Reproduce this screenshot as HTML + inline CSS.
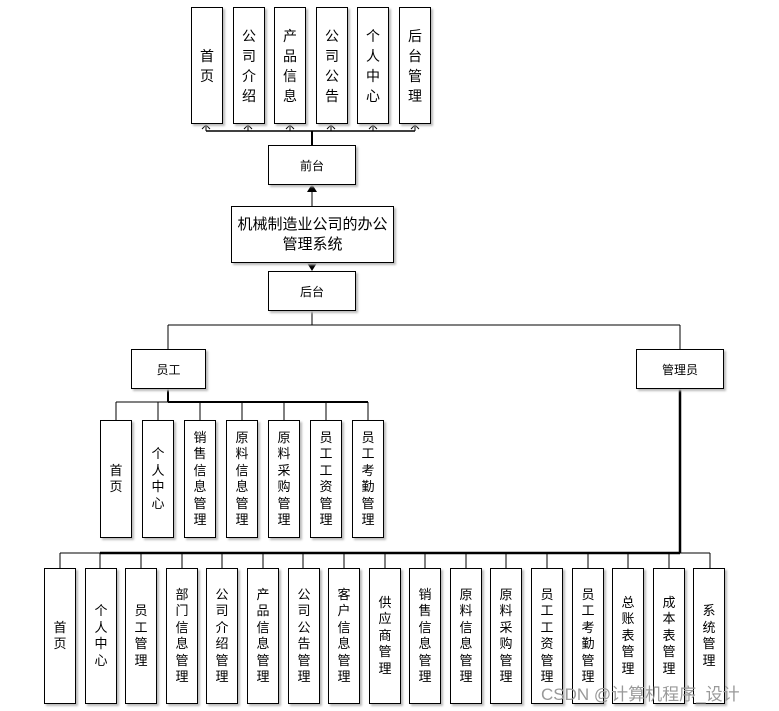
<!DOCTYPE html>
<html><head><meta charset="utf-8"><style>
body{margin:0;width:779px;height:711px;background:#fff;position:relative;overflow:hidden;font-family:"Liberation Sans","Noto Sans CJK SC",sans-serif;color:#000}
.b{position:absolute;border:1.5px solid #000;box-sizing:border-box;display:flex;align-items:center;justify-content:center;text-align:center;background:#fff;box-shadow:2px 2px 2px #bbb}
.v{font-size:13px;line-height:16.5px;width:14px;word-break:break-all}
.t{font-size:14px;line-height:20px;width:15px;word-break:break-all}
.h{font-size:12px}
svg{position:absolute;left:0;top:0}
</style></head><body>
<svg width="779" height="711">
<g stroke="#000" fill="none">
<line x1="206" y1="131" x2="415" y2="131" stroke-width="1.5"/>
<line x1="206" y1="125" x2="206" y2="131"/><line x1="248" y1="125" x2="248" y2="131"/><line x1="290" y1="125" x2="290" y2="131"/><line x1="331" y1="125" x2="331" y2="131"/><line x1="373" y1="125" x2="373" y2="131"/><line x1="415" y1="125" x2="415" y2="131"/>
<path d="M202 129 L206 125 L210 129 M244 129 L248 125 L252 129 M286 129 L290 125 L294 129 M327 129 L331 125 L335 129 M369 129 L373 125 L377 129 M411 129 L415 125 L419 129"/>
<line x1="312" y1="131" x2="312" y2="145" stroke-width="2"/>
<line x1="312" y1="192" x2="312" y2="206"/>
<line x1="312" y1="310" x2="312" y2="325"/>
<line x1="168" y1="325" x2="680" y2="325"/>
<line x1="168" y1="325" x2="168" y2="349"/><line x1="680" y1="325" x2="680" y2="349"/>
<line x1="168" y1="388" x2="168" y2="402" stroke-width="2"/>
<line x1="116" y1="402" x2="368" y2="402"/>
<line x1="168" y1="402" x2="368" y2="402" stroke-width="2"/>
<line x1="116" y1="402" x2="116" y2="420"/><line x1="158" y1="402" x2="158" y2="420"/><line x1="200" y1="402" x2="200" y2="420"/><line x1="242" y1="402" x2="242" y2="420"/><line x1="284" y1="402" x2="284" y2="420"/><line x1="326" y1="402" x2="326" y2="420"/><line x1="368" y1="402" x2="368" y2="420"/>
<line x1="680" y1="388" x2="680" y2="553" stroke-width="2.5"/>
<line x1="60" y1="553" x2="710" y2="553"/>
<line x1="100" y1="553" x2="680" y2="553" stroke-width="2.5"/>
<g id="bl"></g>
</g>
<path d="M307 192 L312 184 L317 192 Z" fill="#000"/>
<path d="M307 263 L317 263 L312 271 Z" fill="#000"/>
<g stroke="#000">
<line x1="60" y1="553" x2="60" y2="568"/><line x1="100" y1="553" x2="100" y2="568"/><line x1="141" y1="553" x2="141" y2="568"/><line x1="182" y1="553" x2="182" y2="568"/><line x1="222" y1="553" x2="222" y2="568"/><line x1="263" y1="553" x2="263" y2="568"/><line x1="303" y1="553" x2="303" y2="568"/><line x1="344" y1="553" x2="344" y2="568"/><line x1="385" y1="553" x2="385" y2="568"/><line x1="425" y1="553" x2="425" y2="568"/><line x1="466" y1="553" x2="466" y2="568"/><line x1="506" y1="553" x2="506" y2="568"/><line x1="547" y1="553" x2="547" y2="568"/><line x1="588" y1="553" x2="588" y2="568"/><line x1="628" y1="553" x2="628" y2="568"/><line x1="669" y1="553" x2="669" y2="568"/><line x1="710" y1="553" x2="710" y2="568"/>
</g>
</svg>

<div class="b" style="left:191px;top:7px;width:32px;height:117px"><div class="t">首页</div></div>
<div class="b" style="left:233px;top:7px;width:32px;height:117px"><div class="t">公司介绍</div></div>
<div class="b" style="left:274px;top:7px;width:32px;height:117px"><div class="t">产品信息</div></div>
<div class="b" style="left:316px;top:7px;width:32px;height:117px"><div class="t">公司公告</div></div>
<div class="b" style="left:357px;top:7px;width:32px;height:117px"><div class="t">个人中心</div></div>
<div class="b" style="left:399px;top:7px;width:32px;height:117px"><div class="t">后台管理</div></div>

<div class="b h" style="left:268px;top:145px;width:88px;height:40px">前台</div>
<div class="b" style="left:231px;top:206px;width:163px;height:57px;font-size:15px;line-height:20px;padding:0 4px">机械制造业公司的办公管理系统</div>
<div class="b h" style="left:268px;top:271px;width:88px;height:40px">后台</div>
<div class="b h" style="left:131px;top:349px;width:75px;height:40px">员工</div>
<div class="b h" style="left:636px;top:349px;width:88px;height:40px">管理员</div>

<div class="b" style="left:100px;top:420px;width:32px;height:118px"><div class="v">首页</div></div>
<div class="b" style="left:142px;top:420px;width:32px;height:118px"><div class="v">个人中心</div></div>
<div class="b" style="left:184px;top:420px;width:32px;height:118px"><div class="v">销售信息管理</div></div>
<div class="b" style="left:226px;top:420px;width:32px;height:118px"><div class="v">原料信息管理</div></div>
<div class="b" style="left:268px;top:420px;width:32px;height:118px"><div class="v">原料采购管理</div></div>
<div class="b" style="left:310px;top:420px;width:32px;height:118px"><div class="v">员工工资管理</div></div>
<div class="b" style="left:352px;top:420px;width:32px;height:118px"><div class="v">员工考勤管理</div></div>

<div class="b" style="left:44px;top:568px;width:32px;height:136px"><div class="v">首页</div></div>
<div class="b" style="left:85px;top:568px;width:32px;height:136px"><div class="v">个人中心</div></div>
<div class="b" style="left:125px;top:568px;width:32px;height:136px"><div class="v">员工管理</div></div>
<div class="b" style="left:166px;top:568px;width:32px;height:136px"><div class="v">部门信息管理</div></div>
<div class="b" style="left:206px;top:568px;width:32px;height:136px"><div class="v">公司介绍管理</div></div>
<div class="b" style="left:247px;top:568px;width:32px;height:136px"><div class="v">产品信息管理</div></div>
<div class="b" style="left:288px;top:568px;width:32px;height:136px"><div class="v">公司公告管理</div></div>
<div class="b" style="left:328px;top:568px;width:32px;height:136px"><div class="v">客户信息管理</div></div>
<div class="b" style="left:369px;top:568px;width:32px;height:136px"><div class="v">供应商管理</div></div>
<div class="b" style="left:409px;top:568px;width:32px;height:136px"><div class="v">销售信息管理</div></div>
<div class="b" style="left:450px;top:568px;width:32px;height:136px"><div class="v">原料信息管理</div></div>
<div class="b" style="left:490px;top:568px;width:32px;height:136px"><div class="v">原料采购管理</div></div>
<div class="b" style="left:531px;top:568px;width:32px;height:136px"><div class="v">员工工资管理</div></div>
<div class="b" style="left:572px;top:568px;width:32px;height:136px"><div class="v">员工考勤管理</div></div>
<div class="b" style="left:612px;top:568px;width:32px;height:136px"><div class="v">总账表管理</div></div>
<div class="b" style="left:653px;top:568px;width:32px;height:136px"><div class="v">成本表管理</div></div>
<div class="b" style="left:693px;top:568px;width:32px;height:136px"><div class="v">系统管理</div></div>

<div style="position:absolute;left:541px;top:680px;font-size:17px;color:#999;white-space:nowrap">CSDN @计算机程序_设计</div>
</body></html>
